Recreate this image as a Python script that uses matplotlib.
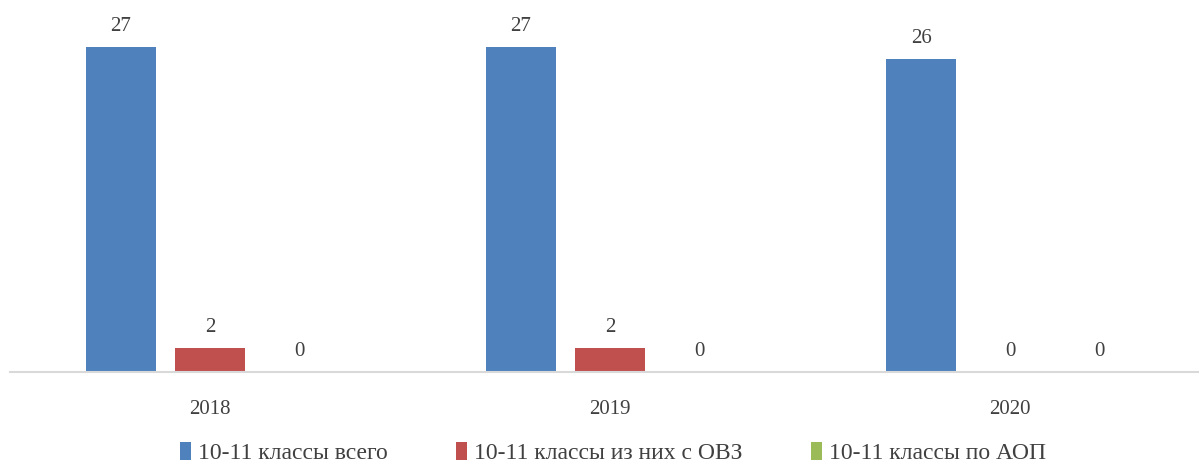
import numpy as np
import matplotlib.pyplot as plt
from matplotlib.patches import Patch

years = ["2018", "2019", "2020"]
series_names = ["10-11 классы всего", "10-11 классы из них с ОВЗ", "10-11 классы по АОП"]
total = [27, 27, 26]
ovz = [2, 2, 0]
aop = [0, 0, 0]
colors = ["#4f81bd", "#c0504d", "#9bbb59"]

plt.rcParams["font.family"] = ["Liberation Serif", "DejaVu Serif"]
text_color = "#404040"

W, H = 1199, 466
fig = plt.figure(figsize=(W / 100, H / 100), dpi=100)
# axes spans from x=10 px to right edge, baseline at y=372 px from top
ax = fig.add_axes([10 / W, (H - 372) / H, (W - 10) / W, (372 - 11) / H])

x = np.arange(len(years))
width = 0.175
step = 0.2225
for i, (vals, c) in enumerate(zip([total, ovz, aop], colors)):
    pos = x + (i - 1) * step
    ax.bar(pos, vals, width, color=c)
    for p, v in zip(pos, vals):
        ax.text(p, v + 0.9, str(v), ha="center", va="bottom",
                fontsize=15, color=text_color)

ax.set_xlim(-0.5, -0.5 + (W - 10) / 400)
ax.set_ylim(0, 30)
for s in ["top", "right", "left"]:
    ax.spines[s].set_visible(False)
ax.spines["bottom"].set_color("#d9d9d9")
ax.spines["bottom"].set_linewidth(1.5)
ax.set_yticks([])
ax.set_xticks(x)
ax.set_xticklabels(years, fontsize=15, color=text_color)
ax.tick_params(axis="x", length=0, pad=20)

handles = [Patch(facecolor=c, edgecolor="none") for c in colors]
fig.legend(handles, series_names, loc="center", bbox_to_anchor=(613 / W, 13 / H),
           ncol=3, frameon=False, fontsize=17, handlelength=0.45, handleheight=0.8,
           handletextpad=0.3, columnspacing=2.9, labelcolor=text_color,
           borderpad=0, borderaxespad=0)

fig.savefig("out.png", dpi=100)
